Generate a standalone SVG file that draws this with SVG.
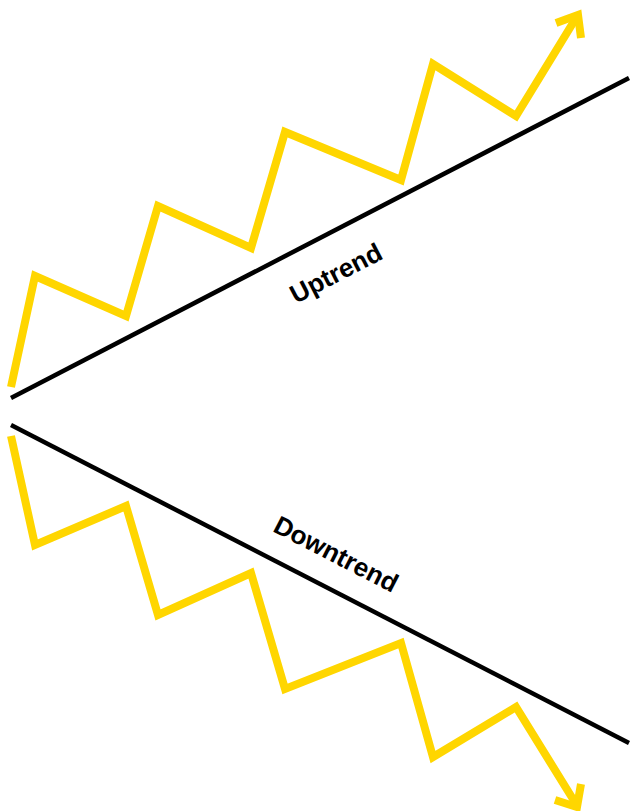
<svg xmlns="http://www.w3.org/2000/svg" width="631" height="811" viewBox="0 0 631 811">
<style>
.trend{stroke:#000;stroke-width:4.5;fill:none}
.zig{stroke:#FFD600;stroke-width:8;fill:none;stroke-linejoin:miter;stroke-miterlimit:10}
.lbl{font-family:"Liberation Sans",Arial,sans-serif;font-weight:bold;font-size:26px;fill:#000;text-anchor:middle}
</style>
<rect width="631" height="811" fill="#fff"/>
<g id="connectors">
<line class="trend" x1="11" y1="398" x2="629" y2="78"/>
<line class="trend" x1="11" y1="425" x2="629" y2="743"/>
</g>
<g id="uptrend">
<polyline class="zig" points="11,387 35,276 126,316 158,206 251,248 285,132 401,180 433,64 516,116 576,18"/>
<polyline class="zig" points="556,23 578,15 581,38"/>
<text class="lbl" transform="translate(340,281) rotate(-27.4)">Uptrend</text>
</g>
<g id="downtrend">
<polyline class="zig" points="11,436 35,545 126,506 158,615 251,573 285,689 401,643 433,757 516,707 576,804"/>
<polyline class="zig" points="555,800 577,807 581,784"/>
<text class="lbl" transform="translate(332,562) rotate(27.2)">Downtrend</text>
</g>
</svg>
